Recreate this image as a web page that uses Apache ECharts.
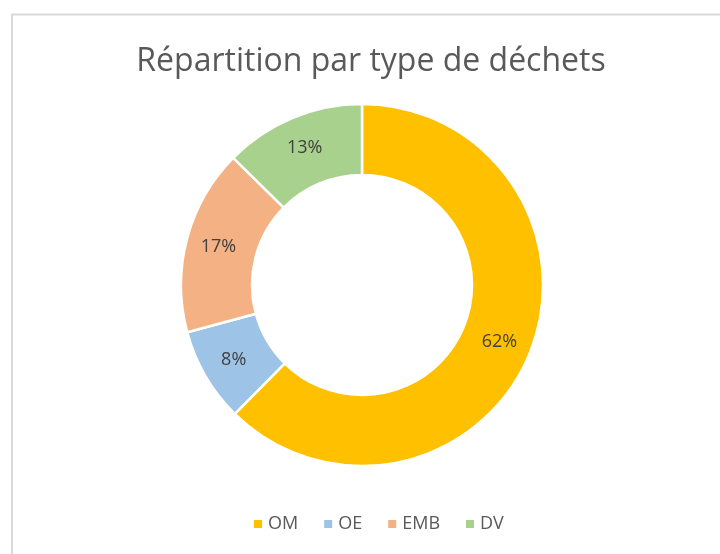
<!DOCTYPE html>
<html><head><meta charset="utf-8">
<script src="https://cdn.jsdelivr.net/npm/echarts@6/dist/echarts.min.js"></script>
<style>html,body{margin:0;padding:0;background:#fff}#c{width:720px;height:554px}</style>
</head><body><div id="c"></div>
<script>
const categories = ['OM', 'OE', 'EMB', 'DV'];
const values = [62.4, 8.4, 16.6, 12.6];
const colors = ['#FFC000', '#9DC3E6', '#F4B183', '#A9D18E'];
const titleText = 'Répartition par type de déchets';

const chart = echarts.init(document.getElementById('c'), null, {renderer: 'canvas'});
const FONT = '"Open Sans", "Liberation Sans", sans-serif';
chart.setOption({
  animation: false,
  backgroundColor: '#fff',
  graphic: [{
    type: 'rect', shape: {x: 12, y: 14.5, width: 760, height: 600},
    style: {fill: 'none', stroke: '#d9d9d9', lineWidth: 2}, silent: true
  }],
  title: {
    text: titleText, left: 366, top: 41, textAlign: 'center',
    textStyle: {fontFamily: FONT, fontSize: 32, fontWeight: 'normal', color: '#595959'}
  },
  legend: {
    data: categories, bottom: 16, left: 247, icon: 'rect', itemWidth: 10, itemHeight: 10, itemGap: 24,
    textStyle: {fontFamily: FONT, fontSize: 18, color: '#595959', padding: [0, 0, 0, 0]}
  },
  series: [{
    type: 'pie', center: [362, 285], radius: [110, 181], startAngle: 90, clockwise: true,
    data: categories.map((c, i) => ({name: c, value: values[i], itemStyle: {color: colors[i]}})),
    itemStyle: {borderColor: '#fff', borderWidth: 2.5},
    label: {
      position: 'inside', fontFamily: FONT, fontSize: 18, color: '#404040',
      formatter: p => Math.round(p.percent) + '%'
    },
    labelLine: {show: false},
    emphasis: {disabled: true}
  }]
});
</script></body></html>
